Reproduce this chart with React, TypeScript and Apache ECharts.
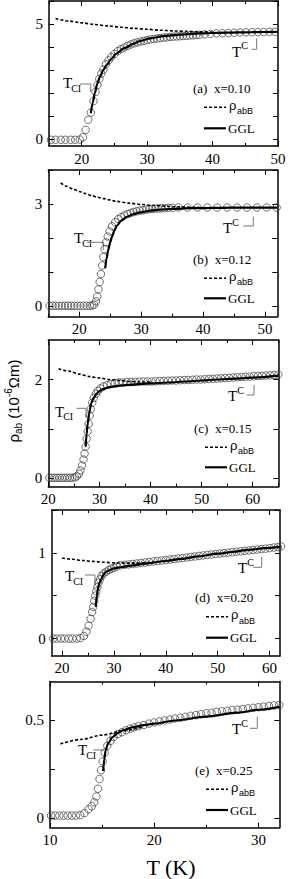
import React, { useEffect, useRef } from "react";
import * as echarts from "echarts";

// ---------- Panel (a) x=0.10 ----------
const circlesA: [number, number][] = [
  [15.3, -0.03], [16.0, -0.03], [16.8, -0.03], [17.5, -0.03], [18.3, -0.03], [19.0, -0.03], [19.7, -0.02],
  [20.2, 0.08], [20.6, 0.4], [21.0, 0.84], [21.4, 1.15], [21.8, 1.65], [22.1, 2.05], [22.4, 2.35], [22.7, 2.62],
  [23.0, 2.85], [23.3, 3.02], [23.7, 3.25], [24.1, 3.42], [24.5, 3.56], [25.0, 3.7], [25.5, 3.82], [26.0, 3.91],
  [26.5, 3.98], [27.0, 4.05], [27.5, 4.11], [28.0, 4.16], [28.5, 4.2], [29.0, 4.24], [29.5, 4.27], [30.0, 4.3],
  [30.5, 4.33], [31.0, 4.35], [31.5, 4.37], [32.0, 4.39], [32.5, 4.41], [33.0, 4.42], [33.5, 4.44], [34.0, 4.45],
  [34.5, 4.46], [35.0, 4.47], [35.5, 4.48], [36.0, 4.49], [36.5, 4.5], [37.0, 4.51], [37.5, 4.52], [38.0, 4.53],
  [38.8, 4.55], [39.7, 4.57], [40.6, 4.59], [41.5, 4.6], [42.4, 4.61], [43.3, 4.62], [44.2, 4.63], [45.1, 4.64],
  [46.0, 4.64], [46.9, 4.65], [47.8, 4.65], [48.7, 4.66], [49.5, 4.66],
];
const bgA: [number, number][] = [
  [16, 5.24], [18, 5.13], [20, 5.05], [22, 4.98], [24, 4.92], [26, 4.86], [28, 4.81], [30, 4.77],
  [32, 4.73], [34, 4.7], [36, 4.68], [38, 4.66], [40, 4.65],
];
const gglA: [number, number][] = [
  [21.4, 1.13], [21.7, 1.6], [22.0, 2.0], [22.4, 2.42], [22.8, 2.72], [23.3, 3.0], [23.8, 3.22], [24.5, 3.48],
  [25.3, 3.72], [26.5, 3.95], [27.9, 4.14], [29.0, 4.27], [30.5, 4.38], [32.5, 4.47], [35.0, 4.54], [38.0, 4.59],
  [42.0, 4.63], [46.0, 4.65], [50.0, 4.66],
];

// ---------- Panel (b) x=0.12 ----------
const circlesB: [number, number][] = [
  [15.2, 0.02], [15.7, 0.02], [16.2, 0.02], [16.7, 0.02], [17.2, 0.02], [17.7, 0.02], [18.2, 0.02], [18.7, 0.02],
  [19.2, 0.02], [19.7, 0.02], [20.2, 0.02], [20.7, 0.02], [21.2, 0.02], [21.7, 0.02], [22.1, 0.03],
  [22.4, 0.05], [22.7, 0.15], [22.9, 0.29], [23.1, 0.5], [23.3, 0.72], [23.5, 0.95], [23.7, 1.2], [23.9, 1.45],
  [24.1, 1.68], [24.35, 1.88], [24.6, 2.05], [24.9, 2.2], [25.3, 2.35], [25.8, 2.47], [26.3, 2.56], [26.8, 2.62],
  [27.3, 2.67], [27.8, 2.71], [28.3, 2.74], [28.8, 2.77], [29.3, 2.79], [29.8, 2.81], [30.3, 2.82], [30.8, 2.84],
  [31.3, 2.85], [31.8, 2.86], [32.3, 2.87], [32.8, 2.87], [33.3, 2.88], [33.8, 2.88], [34.4, 2.89], [35.1, 2.89],
  [36.0, 2.9], [37.5, 2.9], [39.1, 2.9], [40.7, 2.9], [42.3, 2.9], [43.9, 2.9], [45.5, 2.9], [47.1, 2.9],
  [48.7, 2.9], [50.3, 2.9], [51.9, 2.9],
];
const bgB: [number, number][] = [
  [17, 3.62], [18, 3.52], [19, 3.44], [20, 3.37], [21, 3.31], [22, 3.25], [23, 3.2], [24, 3.16], [25, 3.12],
  [26, 3.08], [28, 3.03], [30, 2.99], [32, 2.96], [34, 2.94], [36, 2.92], [38, 2.91], [40, 2.9],
];
const gglB: [number, number][] = [
  [24.2, 1.12], [24.4, 1.4], [24.7, 1.66], [25.0, 1.88], [25.3, 2.05], [25.7, 2.23], [26.1, 2.37], [26.8, 2.52],
  [27.7, 2.63], [28.8, 2.71], [29.9, 2.76], [31.5, 2.81], [33.0, 2.84], [35.0, 2.86], [38.0, 2.88], [42.0, 2.89],
  [47.0, 2.9], [52.0, 2.9],
];

// ---------- Panel (c) x=0.15 ----------
const circlesC: [number, number][] = [
  [20.2, 0.01], [20.7, 0.01], [21.2, 0.01], [21.7, 0.01], [22.2, 0.01], [22.7, 0.01], [23.2, 0.01], [23.7, 0.01],
  [24.2, 0.01], [24.7, 0.01], [25.2, 0.02],
  [25.6, 0.04], [26.0, 0.09], [26.3, 0.16], [26.6, 0.26], [26.9, 0.38], [27.1, 0.5], [27.3, 0.64], [27.5, 0.8],
  [27.7, 0.95], [27.9, 1.1], [28.1, 1.27], [28.3, 1.4], [28.6, 1.53], [28.9, 1.63], [29.3, 1.71], [29.7, 1.77],
  [30.2, 1.82], [30.8, 1.86], [31.5, 1.89], [32.2, 1.91], [33.0, 1.93], [33.8, 1.94], [34.6, 1.94], [35.4, 1.95],
  [36.2, 1.95], [37.0, 1.95], [37.8, 1.955], [38.6, 1.96], [39.4, 1.96], [40.2, 1.96], [41.0, 1.965], [41.8, 1.97],
  [42.6, 1.97], [43.4, 1.975], [44.2, 1.98], [45.0, 1.98], [45.8, 1.985], [46.6, 1.99], [47.4, 1.99], [48.2, 1.995],
  [49.0, 2.0], [49.8, 2.0], [50.6, 2.005], [51.4, 2.01], [52.2, 2.015], [53.0, 2.02], [53.8, 2.025], [54.6, 2.03],
  [55.4, 2.035], [56.2, 2.04], [57.0, 2.045], [57.8, 2.05], [58.6, 2.055], [59.4, 2.06], [60.2, 2.065], [61.0, 2.07],
  [61.8, 2.075], [62.6, 2.08], [63.4, 2.085], [64.2, 2.09], [65.0, 2.1],
];
const bgC: [number, number][] = [
  [22, 2.22], [24, 2.17], [26, 2.11], [28, 2.06], [30, 2.03], [32, 2.0], [34, 1.98], [36, 1.96], [38, 1.95], [40, 1.95],
];
const gglC: [number, number][] = [
  [27.3, 0.64], [27.5, 0.9], [27.7, 1.1], [28.0, 1.32], [28.4, 1.52], [28.9, 1.63], [29.4, 1.71], [29.9, 1.76],
  [30.8, 1.81], [31.7, 1.84], [33.0, 1.86], [34.3, 1.88], [36.0, 1.89], [38.1, 1.91], [40.0, 1.92], [43.4, 1.94],
  [47.0, 1.96], [50.0, 1.98], [53.0, 2.0], [56.5, 2.02], [60.0, 2.04], [65.0, 2.08],
];

// ---------- Panel (d) x=0.20 ----------
const circlesD: [number, number][] = [
  [18.3, 0], [19.0, 0], [19.8, 0], [20.5, 0], [21.3, 0], [22.0, 0], [22.8, 0], [23.5, 0.005],
  [24.2, 0.03], [24.7, 0.08], [25.1, 0.15], [25.5, 0.23], [25.8, 0.31], [26.0, 0.37], [26.2, 0.44], [26.4, 0.5],
  [26.6, 0.55], [26.8, 0.6], [27.0, 0.65], [27.3, 0.69], [27.6, 0.73], [28.0, 0.76], [28.5, 0.78], [29.0, 0.8],
  [29.5, 0.815], [30.0, 0.825], [30.5, 0.84], [31.2, 0.855], [32.0, 0.86], [32.8, 0.865], [33.6, 0.87], [34.4, 0.876],
  [35.2, 0.882], [36.0, 0.888], [36.8, 0.894], [37.6, 0.9], [38.4, 0.905], [39.2, 0.91], [40.0, 0.916], [40.8, 0.922],
  [41.6, 0.928], [42.4, 0.934], [43.2, 0.94], [44.0, 0.946], [44.8, 0.952], [45.6, 0.958], [46.4, 0.964], [47.2, 0.97],
  [48.0, 0.976], [48.8, 0.981], [49.6, 0.987], [50.4, 0.992], [51.2, 0.997], [52.0, 1.002], [52.8, 1.008], [53.6, 1.013],
  [54.4, 1.018], [55.2, 1.023], [56.0, 1.028], [56.8, 1.034], [57.6, 1.039], [58.4, 1.044], [59.2, 1.049], [60.0, 1.055],
  [60.8, 1.062], [61.6, 1.068], [62.2, 1.075],
];
const bgD: [number, number][] = [
  [20, 0.94], [22, 0.925], [24, 0.91], [26, 0.9], [28, 0.89], [30, 0.883], [32, 0.88], [34, 0.88], [36, 0.885], [38, 0.893],
];
const gglD: [number, number][] = [
  [26.5, 0.37], [26.7, 0.5], [26.9, 0.58], [27.2, 0.65], [27.6, 0.7], [28.0, 0.75], [28.5, 0.78], [29.2, 0.8],
  [30.0, 0.82], [31.5, 0.835], [33.7, 0.855], [36.0, 0.875], [40.0, 0.905], [43.0, 0.93], [46.3, 0.96], [50.0, 0.99],
  [52.7, 1.01], [56.0, 1.035], [59.0, 1.055], [62.0, 1.07],
];

// ---------- Panel (e) x=0.25 ----------
const circlesE: [number, number][] = [
  [10.1, 0.012], [10.5, 0.012], [10.9, 0.012], [11.3, 0.012], [11.7, 0.012], [12.1, 0.012], [12.5, 0.012], [12.9, 0.015],
  [13.3, 0.025], [13.7, 0.045], [14.0, 0.06], [14.25, 0.08], [14.45, 0.11], [14.6, 0.15], [14.75, 0.2], [14.9, 0.245],
  [15.05, 0.29], [15.25, 0.335], [15.5, 0.37], [15.8, 0.395], [16.1, 0.415], [16.5, 0.43], [16.9, 0.44], [17.3, 0.45],
  [17.7, 0.458], [18.1, 0.465], [18.5, 0.471], [19.0, 0.477], [19.5, 0.484], [20.0, 0.49], [20.5, 0.495], [21.0, 0.5],
  [21.5, 0.505], [22.0, 0.51], [22.5, 0.514], [23.0, 0.519], [23.5, 0.524], [24.0, 0.528], [24.5, 0.533], [25.0, 0.537],
  [25.5, 0.54], [26.0, 0.544], [26.5, 0.547], [27.0, 0.55], [27.5, 0.553], [28.0, 0.556], [28.5, 0.559], [29.0, 0.562],
  [29.5, 0.565], [30.0, 0.568], [30.5, 0.571], [31.0, 0.574], [31.5, 0.577], [32.0, 0.58],
];
const bgE: [number, number][] = [
  [11, 0.38], [13, 0.403], [15, 0.425], [17, 0.447], [19, 0.468],
];
const gglE: [number, number][] = [
  [15.1, 0.24], [15.2, 0.3], [15.35, 0.35], [15.6, 0.385], [16.0, 0.415], [16.5, 0.435], [17.0, 0.45], [18.0, 0.466],
  [19.0, 0.476], [20.0, 0.484], [22.0, 0.5], [25.0, 0.52], [28.0, 0.54], [30.0, 0.555], [32.0, 0.57],
];

// ---------- Axis ticks & labels ----------
const xMajorA = [20, 30, 40, 50];
const xMinorA = [15, 25, 35, 45];
const yTicksA = [0, 1, 2, 3, 4, 5, 6];
const yLabelsA = [0, 5];
const xMajorB = [20, 30, 40, 50];
const xMinorB = [15, 25, 35, 45];
const yTicksB = [0, 1, 2, 3, 4];
const yLabelsB = [0, 3];
const xMajorC = [20, 30, 40, 50, 60];
const xMinorC = [25, 35, 45, 55, 65];
const yTicksC = [0, 1, 2];
const yLabelsC = [0, 2];
const xMajorD = [20, 30, 40, 50, 60];
const xMinorD = [25, 35, 45, 55];
const yTicksD = [0, 0.5, 1, 1.5];
const yLabelsD = [0, 1];
const xMajorE = [10, 20, 30];
const xMinorE = [15, 25];
const yTicksE = [0, 0.25, 0.5];
const yLabelsE = [0, 0.5];

const panelTags = ["(a)  x=0.10", "(b)  x=0.12", "(c)  x=0.15", "(d)  x=0.20", "(e)  x=0.25"];

// ---------- Layout (pixels) ----------
const panels = [
  {
    circles: circlesA, bg: bgA, ggl: gglA, xr: [15, 50], yr: [-0.3, 6],
    xM: xMajorA, xm: xMinorA, yt: yTicksA, yl: yLabelsA,
    grid: { left: 49, top: 1, width: 229, height: 145 },
    tci: [63, 83], tciBr: [[80, 84], [90.7, 84], [90.7, 92]],
    tc: [232, 51.5], tcBr: [[251.7, 49.3], [256.7, 49.3], [256.7, 38.3]],
    leg: [193, 88.3, 107.3, 128.3],
  },
  {
    circles: circlesB, bg: bgB, ggl: gglB, xr: [15, 52], yr: [-0.3, 4],
    xM: xMajorB, xm: xMinorB, yt: yTicksB, yl: yLabelsB,
    grid: { left: 48.3, top: 170, width: 229, height: 146.7 },
    tci: [74, 238], tciBr: [[87.3, 242.3], [103.3, 242.3], [103.3, 250]],
    tc: [223, 228], tcBr: [[243.3, 226], [253.3, 226], [253.3, 216.7]],
    leg: [193, 259.3, 278.3, 298.3],
  },
  {
    circles: circlesC, bg: bgC, ggl: gglC, xr: [20, 65], yr: [-0.17, 2.8],
    xM: xMajorC, xm: xMinorC, yt: yTicksC, yl: yLabelsC,
    grid: { left: 48.3, top: 340, width: 230, height: 146.7 },
    tci: [55, 411.7], tciBr: [[76.7, 408.3], [86, 408.3], [86, 417.3]],
    tc: [228, 396], tcBr: [[246.7, 395], [254, 395], [254, 385]],
    leg: [194, 428.3, 447.3, 467.3],
  },
  {
    circles: circlesD, bg: bgD, ggl: gglD, xr: [18, 62], yr: [-0.2, 1.5],
    xM: xMajorD, xm: xMinorD, yt: yTicksD, yl: yLabelsD,
    grid: { left: 51.7, top: 510, width: 228.3, height: 145.7 },
    tci: [65, 576], tciBr: [[85, 575], [95, 575], [95, 585]],
    tc: [238, 568], tcBr: [[253.3, 567.3], [261.7, 567.3], [261.7, 556.7]],
    leg: [195, 597.3, 616.7, 637.7],
  },
  {
    circles: circlesE, bg: bgE, ggl: gglE, xr: [10, 32], yr: [-0.05, 0.7],
    xM: xMajorE, xm: xMinorE, yt: yTicksE, yl: yLabelsE,
    grid: { left: 50, top: 681.5, width: 229.3, height: 146.2 },
    tci: [78, 750], tciBr: [[93.3, 750], [104, 750]],
    tc: [232, 729], tcBr: [[250, 728.3], [257.3, 728.3], [257.3, 716.7]],
    leg: [195, 770, 789.3, 810],
  },
];

const SERIF = '"Liberation Serif", "Times New Roman", serif';
const SANS = '"Liberation Sans", Arial, sans-serif';

let measureCtx: CanvasRenderingContext2D | null = null;
function textWidth(text: string, size: number, family: string): number {
  if (!measureCtx) measureCtx = document.createElement("canvas").getContext("2d");
  if (!measureCtx) return text.length * size * 0.5;
  measureCtx.font = `${size}px ${family}`;
  return measureCtx.measureText(text).width;
}

function txt(x: number, y: number, text: string, size: number, family: string, extra: any = {}) {
  return {
    type: "text", x, y, silent: true,
    style: { text, fontSize: size, fontFamily: family, fill: "#000", align: "left", verticalAlign: "middle", ...extra },
  };
}

function scriptText(x: number, y: number, main: string, small: string, size: number, smallSize: number,
  family: string, smallFamily: string, dy: number, gap = 0) {
  const w = textWidth(main, size, family);
  return [txt(x, y, main, size, family), txt(x + w + gap, y + dy, small, smallSize, smallFamily)];
}

function buildOption() {
  const grid: any[] = [];
  const xAxis: any[] = [];
  const yAxis: any[] = [];
  const series: any[] = [];
  const graphic: any[] = [];
  const axisLine = { show: true, onZero: false, lineStyle: { color: "#000", width: 1.5 } };
  const noLine = { show: false, onZero: false };
  const label = { fontFamily: SERIF, fontSize: 15, color: "#000" };
  const tickStyle = { color: "#000", width: 1 };

  panels.forEach((p, i) => {
    grid.push({ ...p.grid, containLabel: false });
    const xb = { type: "value", gridIndex: i, min: p.xr[0], max: p.xr[1], splitLine: { show: false } };
    const yb = { type: "value", gridIndex: i, min: p.yr[0], max: p.yr[1], splitLine: { show: false } };
    // x axes: 0 bottom major (with labels), 1 top major, 2 bottom minor, 3 top minor
    xAxis.push({
      ...xb, position: "bottom", axisLine,
      axisTick: { show: true, inside: true, length: 5, customValues: p.xM, lineStyle: tickStyle },
      axisLabel: { ...label, margin: 5, customValues: p.xM, showMinLabel: true, showMaxLabel: true },
    });
    xAxis.push({
      ...xb, position: "top", axisLine,
      axisTick: { show: true, inside: true, length: 5, customValues: p.xM, lineStyle: tickStyle },
      axisLabel: { show: false },
    });
    xAxis.push({
      ...xb, position: "bottom", axisLine: noLine,
      axisTick: { show: true, inside: true, length: 3, customValues: p.xm, lineStyle: tickStyle },
      axisLabel: { show: false },
    });
    xAxis.push({
      ...xb, position: "top", axisLine: noLine,
      axisTick: { show: true, inside: true, length: 3, customValues: p.xm, lineStyle: tickStyle },
      axisLabel: { show: false },
    });
    yAxis.push({
      ...yb, position: "left", axisLine,
      axisTick: { show: true, inside: true, length: 5, customValues: p.yt, lineStyle: tickStyle },
      axisLabel: { ...label, margin: 6, customValues: p.yl, formatter: (v: number) => String(v) },
    });
    yAxis.push({
      ...yb, position: "right", axisLine,
      axisTick: { show: true, inside: true, length: 5, customValues: p.yt, lineStyle: tickStyle },
      axisLabel: { show: false },
    });

    const xi = 4 * i;
    const yi = 2 * i;
    series.push({
      type: "scatter", name: "data", xAxisIndex: xi, yAxisIndex: yi, data: p.circles,
      symbol: "circle", symbolSize: 7.5, clip: false, z: 2,
      itemStyle: { color: "rgba(0,0,0,0)", borderColor: "#3a3a3a", borderWidth: 0.9 },
    });
    series.push({
      type: "line", name: "ρabB", xAxisIndex: xi, yAxisIndex: yi, data: p.bg, showSymbol: false,
      smooth: 0.3, smoothMonotone: "x", z: 3,
      lineStyle: { color: "#000", width: 1.6, type: [3, 2] },
    });
    series.push({
      type: "line", name: "GGL", xAxisIndex: xi, yAxisIndex: yi, data: p.ggl, showSymbol: false,
      smooth: 0.3, smoothMonotone: "x", z: 4,
      lineStyle: { color: "#000", width: 2.2 },
    });

    // annotations
    graphic.push(...scriptText(p.tci[0], p.tci[1], "T", "CI", 15, 10, SERIF, SERIF, 5, -1));
    graphic.push({ type: "polyline", silent: true, shape: { points: p.tciBr }, style: { stroke: "#777", lineWidth: 1, fill: null } });
    graphic.push(...scriptText(p.tc[0], p.tc[1], "T", "C", 15, 10, SERIF, SERIF, -6, 0));
    graphic.push({ type: "polyline", silent: true, shape: { points: p.tcBr }, style: { stroke: "#777", lineWidth: 1, fill: null } });

    // legend block
    const [lx, ly0, ly1, ly2] = p.leg;
    graphic.push(txt(lx, ly0, panelTags[i], 13, SERIF));
    graphic.push({ type: "line", silent: true, shape: { x1: lx + 11, y1: ly1, x2: lx + 33, y2: ly1 }, style: { stroke: "#000", lineWidth: 1.6, lineDash: [3, 2] } });
    graphic.push(...scriptText(lx + 36, ly1 - 2, "ρ", "abB", 13, 9, SANS, SANS, 6, 0.5));
    graphic.push({ type: "line", silent: true, shape: { x1: lx + 11, y1: ly2, x2: lx + 33, y2: ly2 }, style: { stroke: "#000", lineWidth: 2.2 } });
    graphic.push(txt(lx + 35, ly2, "GGL", 13, SERIF));
  });

  // y-axis title (rotated)
  const yParts: any[] = [];
  const f = 15, fs = 10;
  const parts: [string, number, number][] = [["ρ", f, 0], ["ab", fs, 5], [" (10", f, 0], ["-6", fs, -5], ["Ωm)", f, 0]];
  let total = 0;
  parts.forEach(([t, s]) => { total += textWidth(t, s, SANS); });
  let cx = -total / 2;
  parts.forEach(([t, s, dy]) => {
    yParts.push(txt(cx, dy, t, s, SANS));
    cx += textWidth(t, s, SANS);
  });
  graphic.push({ type: "group", x: 13, y: 401, rotation: Math.PI / 2, children: yParts });

  // x-axis title
  graphic.push({
    type: "text", x: 171, y: 867, silent: true,
    style: { text: "T (K)", fontSize: 22, fontFamily: SERIF, fill: "#000", align: "center", verticalAlign: "middle" },
  });

  return { animation: false, backgroundColor: "#fff", grid, xAxis, yAxis, series, graphic };
}

export default function App() {
  const ref = useRef<HTMLDivElement>(null);
  useEffect(() => {
    if (!ref.current) return;
    const chart = echarts.init(ref.current, undefined, { renderer: "svg" });
    chart.setOption(buildOption() as any);
    return () => chart.dispose();
  }, []);
  return (
    <div
      ref={ref}
      style={{ position: "absolute", left: 0, top: 0, width: 296, height: 879, background: "#fff" }}
    />
  );
}
